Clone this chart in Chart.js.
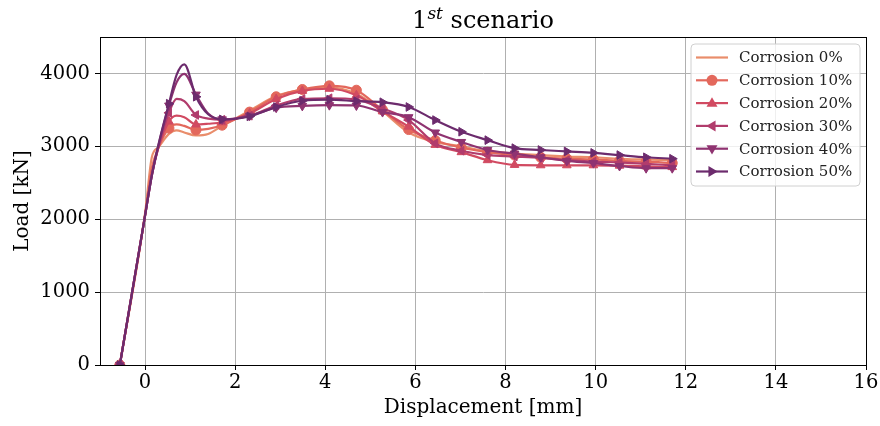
<!DOCTYPE html>
<html><head><meta charset="utf-8">
<script src="https://cdn.jsdelivr.net/npm/chart.js@4.4.1/dist/chart.umd.min.js"></script>
<style>html,body{margin:0;padding:0;background:#fff}canvas{display:block}</style>
</head><body>
<canvas id="c" width="880" height="426"></canvas>
<script>
const DISP = [-0.56, 0.0, 0.15, 0.3, 0.53, 0.7, 0.87, 1.13, 1.4, 1.71, 2.32, 2.91, 3.49, 4.09, 4.69, 5.27, 5.85, 6.44, 7.02, 7.6, 8.2, 8.78, 9.36, 9.95, 10.53, 11.12, 11.7];
const MARKER_IDX = [0, 4, 7, 9, 10, 11, 12, 13, 14, 15, 16, 17, 18, 19, 20, 21, 22, 23, 24, 25, 26];
const LOAD_0  = [0, 2080, 2850, 2990, 3170, 3220, 3190, 3150, 3170, 3280, 3490, 3690, 3780, 3810, 3720, 3480, 3190, 3060, 3000, 2930, 2900, 2880, 2860, 2850, 2830, 2820, 2810];
const LOAD_10 = [0, 2060, 2700, 2985, 3250, 3300, 3280, 3225, 3240, 3290, 3470, 3680, 3780, 3830, 3770, 3500, 3230, 3080, 2980, 2920, 2880, 2850, 2830, 2820, 2800, 2790, 2770];
const LOAD_20 = [0, 2050, 2620, 2990, 3340, 3420, 3400, 3300, 3310, 3330, 3450, 3650, 3760, 3790, 3700, 3480, 3270, 3020, 2920, 2810, 2745, 2740, 2740, 2740, 2735, 2725, 2715];
const LOAD_30 = [0, 2050, 2600, 3000, 3460, 3650, 3620, 3430, 3380, 3365, 3420, 3560, 3650, 3660, 3640, 3520, 3360, 3040, 2940, 2880, 2860, 2840, 2810, 2790, 2780, 2760, 2740];
const LOAD_40 = [0, 2050, 2600, 3020, 3560, 3880, 3995, 3710, 3450, 3370, 3420, 3530, 3555, 3565, 3560, 3470, 3400, 3190, 3060, 2950, 2900, 2850, 2800, 2770, 2730, 2700, 2700];
const LOAD_50 = [0, 2050, 2600, 3030, 3585, 3980, 4125, 3680, 3440, 3370, 3410, 3540, 3625, 3640, 3620, 3605, 3540, 3360, 3200, 3085, 2975, 2950, 2930, 2910, 2880, 2850, 2830];
const SERIES_LABELS = ['Corrosion 0%', 'Corrosion 10%', 'Corrosion 20%', 'Corrosion 30%', 'Corrosion 40%', 'Corrosion 50%'];
const X_TICKS = [0, 2, 4, 6, 8, 10, 12, 14, 16];
const Y_TICKS = [0, 1000, 2000, 3000, 4000];

const SERIES = [LOAD_0, LOAD_10, LOAD_20, LOAD_30, LOAD_40, LOAD_50];
const COLORS = ['#e98d6b', '#e3685c', '#d14a61', '#b13c6c', '#8f3371', '#6c2b6d'];
const STYLES = [null, 'circle', 'triangle', 'triangle', 'triangle', 'triangle'];
const ROTS = [0, 0, 0, -90, 180, 90];
const FONT = '"DejaVu Serif", serif';

const datasets = SERIES.map((vals, s) => ({
  label: SERIES_LABELS[s],
  data: vals.map((v, i) => ({x: DISP[i], y: v})),
  borderColor: COLORS[s],
  backgroundColor: COLORS[s],
  borderWidth: 2.2,
  tension: 0.4,
  cubicInterpolationMode: 'monotone',
  pointStyle: STYLES[s] || 'circle',
  pointRotation: ROTS[s],
  pointRadius: vals.map((v, i) => (STYLES[s] && MARKER_IDX.includes(i)) ? 5 : 0),
  pointHoverRadius: 0,
  pointBackgroundColor: COLORS[s],
  pointBorderColor: COLORS[s],
  pointBorderWidth: 1,
  order: 5 - s
}));

function drawMarker(ctx, style, rot, r, x, y) {
  ctx.save();
  ctx.translate(x, y);
  ctx.rotate(rot * Math.PI / 180);
  ctx.beginPath();
  if (style === 'circle') {
    ctx.arc(0, 0, r, 0, Math.PI * 2);
  } else {
    ctx.moveTo(0, -r * 1.05);
    ctx.lineTo(r, r * 0.65);
    ctx.lineTo(-r, r * 0.65);
    ctx.closePath();
  }
  ctx.fill();
  ctx.restore();
}

const decor = {
  id: 'decor',
  afterDraw(chart) {
    const ctx = chart.ctx, a = chart.chartArea;
    ctx.save();
    ctx.strokeStyle = '#000'; ctx.lineWidth = 1;
    ctx.strokeRect(Math.round(a.left) + 0.5, Math.round(a.top) + 0.5, Math.round(a.right - a.left), Math.round(a.bottom - a.top));
    const cx = (a.left + a.right) / 2;
    const big = '24px ' + FONT, sup = 'italic 17px ' + FONT;
    ctx.fillStyle = '#000';
    ctx.textBaseline = 'alphabetic';
    ctx.font = big; const w1 = ctx.measureText('1').width; const w3 = ctx.measureText(' scenario').width;
    ctx.font = sup; const w2 = ctx.measureText('st').width;
    let x = cx - (w1 + w2 + w3) / 2; const by = 28;
    ctx.font = big; ctx.textAlign = 'left'; ctx.fillText('1', x, by); x += w1;
    ctx.font = sup; ctx.fillText('st', x, by - 9); x += w2;
    ctx.font = big; ctx.fillText(' scenario', x, by);
    const lx = 691, ly = 44, lw = 169, lh = 142, rr = 4;
    ctx.beginPath();
    ctx.moveTo(lx + rr, ly); ctx.lineTo(lx + lw - rr, ly); ctx.quadraticCurveTo(lx + lw, ly, lx + lw, ly + rr);
    ctx.lineTo(lx + lw, ly + lh - rr); ctx.quadraticCurveTo(lx + lw, ly + lh, lx + lw - rr, ly + lh);
    ctx.lineTo(lx + rr, ly + lh); ctx.quadraticCurveTo(lx, ly + lh, lx, ly + lh - rr);
    ctx.lineTo(lx, ly + rr); ctx.quadraticCurveTo(lx, ly, lx + rr, ly); ctx.closePath();
    ctx.fillStyle = 'rgba(255,255,255,0.8)'; ctx.fill();
    ctx.strokeStyle = '#d0d0d0'; ctx.lineWidth = 1; ctx.stroke();
    ctx.font = '15px ' + FONT; ctx.textBaseline = 'middle';
    SERIES_LABELS.forEach((lab, s) => {
      const yy = 57.5 + s * 22.8;
      ctx.strokeStyle = COLORS[s]; ctx.lineWidth = 2.2;
      ctx.beginPath(); ctx.moveTo(696, yy); ctx.lineTo(728, yy); ctx.stroke();
      if (STYLES[s]) { ctx.fillStyle = COLORS[s]; drawMarker(ctx, STYLES[s], ROTS[s], 5.5, 712, yy); }
      ctx.fillStyle = '#222'; ctx.fillText(lab, 739, yy + 1);
    });
    ctx.restore();
  }
};

new Chart(document.getElementById('c'), {
  type: 'line',
  data: {datasets},
  plugins: [decor],
  options: {
    responsive: false,
    animation: false,
    layout: {padding: {top: 37, right: 14, left: 0, bottom: 0}},
    plugins: {legend: {display: false}, title: {display: false}, tooltip: {enabled: false}},
    scales: {
      x: {
        type: 'linear', min: -1, max: 16,
        afterBuildTicks: s => { s.ticks = X_TICKS.map(v => ({value: v})); },
        afterFit: s => { s.height = 61; },
        grid: {color: '#b0b0b0', lineWidth: 1, tickColor: '#000', tickLength: 5},
        border: {display: true, color: '#000', width: 1},
        ticks: {color: '#000', font: {family: FONT, size: 19.5}, padding: 1, maxRotation: 0},
        title: {display: true, text: 'Displacement [mm]', color: '#000', font: {family: FONT, size: 20}, padding: {top: 0, bottom: 6}}
      },
      y: {
        type: 'linear', min: 0, max: 4500,
        afterBuildTicks: s => { s.ticks = Y_TICKS.map(v => ({value: v})); },
        afterFit: s => { s.width = 100; },
        grid: {color: '#b0b0b0', lineWidth: 1, tickColor: '#000', tickLength: 5},
        border: {display: true, color: '#000', width: 1},
        ticks: {color: '#000', font: {family: FONT, size: 19.5}, padding: 5, callback: v => String(v)},
        title: {display: true, text: 'Load [kN]', color: '#000', font: {family: FONT, size: 20}, padding: {top: 11, bottom: 0}}
      }
    }
  }
});
</script>
</body></html>
